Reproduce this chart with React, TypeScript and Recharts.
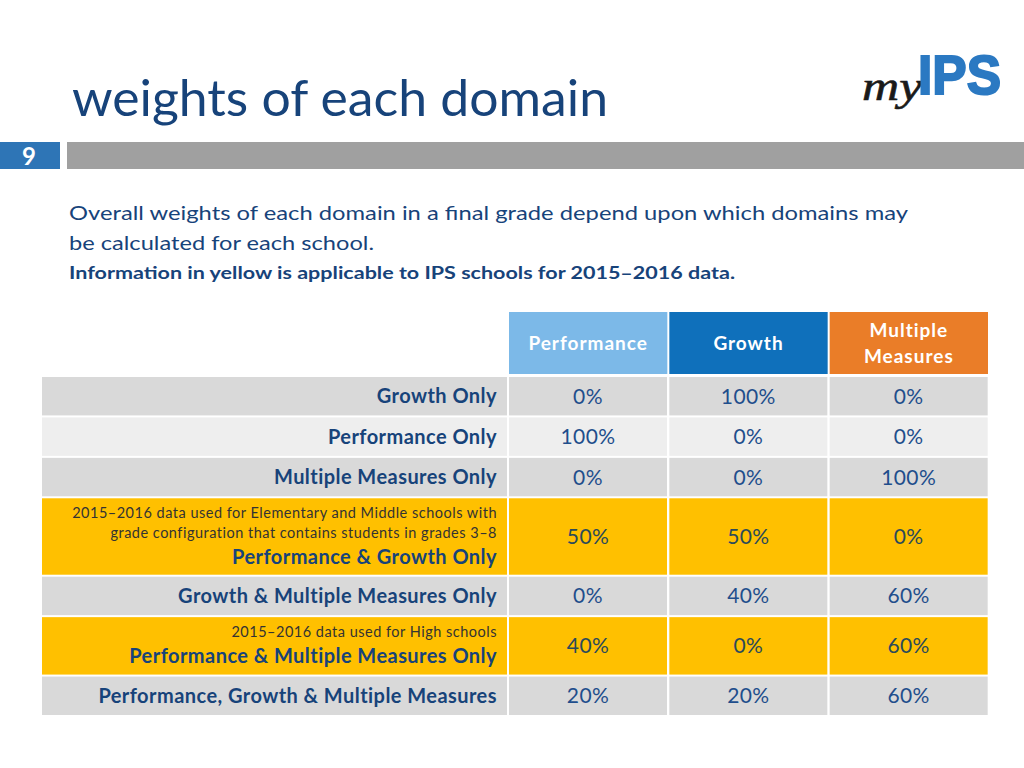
import { BarChart, Bar, XAxis, YAxis } from 'recharts';

// table content
const columns = ['Performance', 'Growth', 'Multiple Measures'];
const rowLabels = [
  'Growth Only',
  'Performance Only',
  'Multiple Measures Only',
  'Performance & Growth Only',
  'Growth & Multiple Measures Only',
  'Performance & Multiple Measures Only',
  'Performance, Growth & Multiple Measures',
];
const rowNotes: string[][] = [
  [],
  [],
  [],
  [
    '2015–2016 data used for Elementary and Middle schools with',
    'grade configuration that contains students in grades 3–8',
  ],
  [],
  ['2015–2016 data used for High schools'],
  [],
];
const performanceWeights = [0, 100, 0, 50, 0, 40, 20];
const growthWeights = [100, 0, 0, 50, 40, 0, 20];
const multipleMeasuresWeights = [0, 0, 100, 0, 60, 60, 60];

const weightsByColumn = [performanceWeights, growthWeights, multipleMeasuresWeights];

// layout
const W = 1024;
const H = 768;
const MARGIN = { top: 311, right: 35, bottom: 52, left: 42 };
const HEADER_H = 65;
const LABEL_W = 466;
const PLOT_TOP = MARGIN.top + HEADER_H;
const PLOT_H = H - MARGIN.bottom - PLOT_TOP;
const PLOT_W = W - MARGIN.right - MARGIN.left - LABEL_W;
const BAND = PLOT_W / columns.length;

const FONT = 'Lato, "Open Sans", sans-serif';
const NAVY = '#17437a';
const CELL_BLUE = '#1f4e8c';
const CELL_ON_YELLOW = '#2b4a5a';
const NOTE_TEXT = '#333333';
const YELLOW = '#ffc000';
const GRAY = '#d9d9d9';
const LIGHT = '#eeeeee';
const headerFills = ['#7cb9e8', '#0f70bb', '#ea7d28'];

// a row grows with each note line above its label
const rowSpans = rowNotes.map((n) => 1 + n.length * 0.47);
const totalSpan = rowSpans.reduce((a, b) => a + b, 0);
const rowStarts = rowSpans.map((_, i) => rowSpans.slice(0, i).reduce((a, b) => a + b, 0));
const rowMids = rowStarts.map((s, i) => s + rowSpans[i] / 2);
const unitPx = PLOT_H / totalSpan;

const rowFill = (i: number) => (rowNotes[i].length ? YELLOW : i % 2 ? LIGHT : GRAY);

const tableData = columns.map((col) => {
  const d: Record<string, string | number> = { col };
  rowSpans.forEach((s, i) => {
    d[`r${i}`] = s;
  });
  return d;
});

function WeightCell(props: any) {
  const { x, y, width, height, payload, row } = props;
  const top = Math.min(y, y + height);
  const h = Math.abs(height);
  const ci = columns.indexOf(payload.col);
  const v = weightsByColumn[ci][row];
  return (
    <g>
      <rect x={x + 1} y={top + 1} width={width - 2} height={h - 2} fill={rowFill(row)} />
      <text
        x={x + width / 2}
        y={top + h / 2 + 7.5}
        textAnchor="middle"
        fontFamily={FONT}
        fontSize={21}
        letterSpacing={0.4}
        fill={rowNotes[row].length ? CELL_ON_YELLOW : CELL_BLUE}
      >
        {`${v}%`}
      </text>
    </g>
  );
}

function RowLabel(props: any) {
  const { payload } = props;
  let i = 0;
  let best = Infinity;
  rowMids.forEach((m, k) => {
    if (Math.abs(m - payload.value) < best) {
      best = Math.abs(m - payload.value);
      i = k;
    }
  });
  const top = PLOT_TOP + rowStarts[i] * unitPx;
  const h = rowSpans[i] * unitPx;
  const right = MARGIN.left + LABEL_W - 11;
  const notes = rowNotes[i];
  const labelY = notes.length ? top + 21 + notes.length * 20 + 6 : top + h / 2 + 7;
  return (
    <g>
      <rect x={MARGIN.left} y={top + 1} width={LABEL_W - 1} height={h - 2} fill={rowFill(i)} />
      {notes.map((n, k) => (
        <text
          key={k}
          x={right}
          y={top + 21 + k * 20}
          textAnchor="end"
          fontFamily={FONT}
          fontSize={14.5}
          letterSpacing={0.5}
          fill={NOTE_TEXT}
        >
          {n}
        </text>
      ))}
      <text
        x={right}
        y={labelY}
        textAnchor="end"
        fontFamily={FONT}
        fontSize={20}
        letterSpacing={0.45}
        fontWeight="bold"
        fill={NAVY}
      >
        {rowLabels[i]}
      </text>
    </g>
  );
}

function HeaderTick(props: any) {
  const { x, payload } = props;
  const ci = columns.indexOf(payload.value);
  const label: string = payload.value;
  const lines = label.length > 12 ? label.split(' ') : [label];
  const top = MARGIN.top + 1;
  const h = HEADER_H - 3;
  const mid = top + h / 2;
  return (
    <g>
      <rect x={x - BAND / 2 + 1} y={top} width={BAND - 2} height={h} fill={headerFills[ci]} />
      {lines.map((l, k) => (
        <text
          key={k}
          x={x}
          y={mid + 7 + (k - (lines.length - 1) / 2) * 26}
          textAnchor="middle"
          fontFamily={FONT}
          fontSize={19}
          letterSpacing={1}
          fontWeight="bold"
          fill="#ffffff"
        >
          {l}
        </text>
      ))}
    </g>
  );
}

function SlideFrame() {
  return (
    <svg width={W} height={H} style={{ position: 'absolute', left: 0, top: 0 }}>
      <rect x={0} y={0} width={W} height={H} fill="#ffffff" />
      <text x={72} y={116} fontFamily={FONT} fontSize={50} fill={NAVY} textLength={536} lengthAdjust="spacingAndGlyphs">
        weights of each domain
      </text>
      <rect x={0} y={142} width={60} height={27} fill="#2e75b6" />
      <text x={29} y={165} textAnchor="middle" fontFamily={FONT} fontSize={24} fontWeight="bold" fill="#ffffff">
        9
      </text>
      <rect x={67} y={142} width={W - 67} height={27} fill="#a0a0a0" />
      {/* logo */}
      <text
        x={862}
        y={100}
        fontFamily='"Liberation Serif", serif'
        fontStyle="italic"
        fontSize={40}
        fill="#1a1a1a"
        stroke="#1a1a1a"
        strokeWidth={0.6}
        textLength={60}
        lengthAdjust="spacingAndGlyphs"
      >
        my
      </text>
      <text
        x={918}
        y={94}
        fontFamily='"Liberation Sans", Arial, sans-serif'
        fontWeight="bold"
        fontSize={55}
        fill="#2b79c2"
        stroke="#2b79c2"
        strokeWidth={2}
        textLength={83}
        lengthAdjust="spacingAndGlyphs"
      >
        IPS
      </text>
      {/* intro */}
      <text x={69} y={220} fontFamily={FONT} fontSize={20} fill={NAVY} textLength={839} lengthAdjust="spacingAndGlyphs">
        Overall weights of each domain in a final grade depend upon which domains may
      </text>
      <text x={69} y={250} fontFamily={FONT} fontSize={20} fill={NAVY} textLength={305} lengthAdjust="spacingAndGlyphs">
        be calculated for each school.
      </text>
      <text
        x={69}
        y={279}
        fontFamily={FONT}
        fontSize={16.5}
        fontWeight="bold"
        fill={NAVY}
        textLength={666}
        lengthAdjust="spacingAndGlyphs"
      >
        Information in yellow is applicable to IPS schools for 2015–2016 data.
      </text>
    </svg>
  );
}

export default function App() {
  return (
    <div style={{ position: 'absolute', left: 0, top: 0, width: W, height: H, background: '#ffffff' }}>
      <SlideFrame />
      <div style={{ position: 'absolute', left: 0, top: 0 }}>
        <BarChart width={W} height={H} data={tableData} margin={MARGIN} barCategoryGap={0}>
          <XAxis
            dataKey="col"
            orientation="top"
            height={HEADER_H}
            axisLine={false}
            tickLine={false}
            interval={0}
            tick={HeaderTick}
          />
          <YAxis
            type="number"
            domain={[0, totalSpan]}
            allowDataOverflow
            reversed
            ticks={rowMids}
            interval={0}
            width={LABEL_W}
            axisLine={false}
            tickLine={false}
            tick={RowLabel}
          />
          {rowLabels.map((_, ri) => (
            <Bar
              key={ri}
              dataKey={`r${ri}`}
              stackId="table"
              isAnimationActive={false}
              shape={(p: any) => <WeightCell {...p} row={ri} />}
            />
          ))}
        </BarChart>
      </div>
    </div>
  );
}
